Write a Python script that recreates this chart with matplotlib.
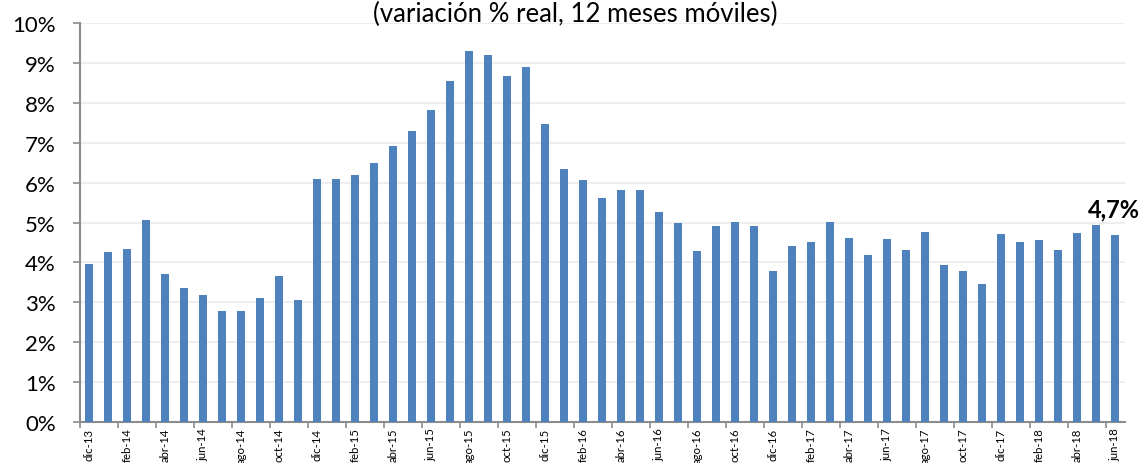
import matplotlib.pyplot as plt
from matplotlib.ticker import FixedLocator, FuncFormatter

plt.rcParams['font.family'] = ['Lato', 'DejaVu Sans']

meses = ['ene', 'feb', 'mar', 'abr', 'may', 'jun', 'jul', 'ago', 'sep', 'oct', 'nov', 'dic']
periodos = ['dic-13'] + ['%s-%d' % (m, a) for a in range(14, 19) for m in meses]
periodos = periodos[:55]   # dic-13 .. jun-18

# variación % real, 12 meses móviles
valores = [3.95, 4.26, 4.33, 5.07, 3.71, 3.37, 3.19, 2.77, 2.77, 3.11, 3.65, 3.07,
           6.10, 6.08, 6.20, 6.49, 6.93, 7.30, 7.82, 8.54, 9.31, 9.20, 8.67, 8.90,
           7.46, 6.34, 6.07, 5.62, 5.81, 5.81, 5.27, 4.99, 4.29, 4.91, 5.02, 4.92,
           3.78, 4.42, 4.50, 5.01, 4.61, 4.19, 4.60, 4.31, 4.76, 3.94, 3.78, 3.47,
           4.72, 4.51, 4.56, 4.31, 4.73, 4.93, 4.70]

titulo = '(variación % real, 12 meses móviles)'
etiqueta_final = '4,7%'

azul = '#4f81bd'
gris = '#8c8c8c'

fig = plt.figure(figsize=(11.44, 4.64), dpi=100)
ax = fig.add_axes([0.0695, 0.0884, 0.9135, 0.8596])

x = list(range(len(valores)))
ax.bar(x, valores, width=0.4, color=azul, zorder=3)

ax.set_xlim(-0.5, len(valores) - 0.5)
ax.set_ylim(0, 10)

# y axis
ax.set_yticks(range(0, 11))
ax.yaxis.set_major_formatter(FuncFormatter(lambda v, p: '%d%%' % v))
ax.tick_params(axis='y', length=5, width=1.2, color=gris, labelsize=16, pad=12)
ax.grid(axis='y', color='#eeeeee', linewidth=1.5, zorder=0)

# x axis: tick marks between categories, labels every 2 months
ax.xaxis.set_major_locator(FixedLocator([i - 0.5 for i in range(0, len(valores), 2)]))
ax.xaxis.set_major_formatter(FuncFormatter(lambda v, p: ''))
ax.xaxis.set_minor_locator(FixedLocator(list(range(0, len(valores), 2))))
ax.set_xticklabels(periodos[::2], minor=True, rotation=90, fontsize=8.2)
ax.tick_params(axis='x', which='major', length=4, width=1.2, color=gris)
ax.tick_params(axis='x', which='minor', length=0, pad=4)

for s in ['top', 'right']:
    ax.spines[s].set_visible(False)
for s in ['left', 'bottom']:
    ax.spines[s].set_color(gris)
    ax.spines[s].set_linewidth(1.5)

ax.annotate(etiqueta_final, (x[-1], valores[-1]), xytext=(-1, 13), textcoords='offset points',
            ha='center', va='baseline', fontsize=17, fontweight='bold')

fig.text(0.503, 0.953, titulo, ha='center', va='baseline', fontsize=18.5)

fig.savefig('out.png', dpi=100)
